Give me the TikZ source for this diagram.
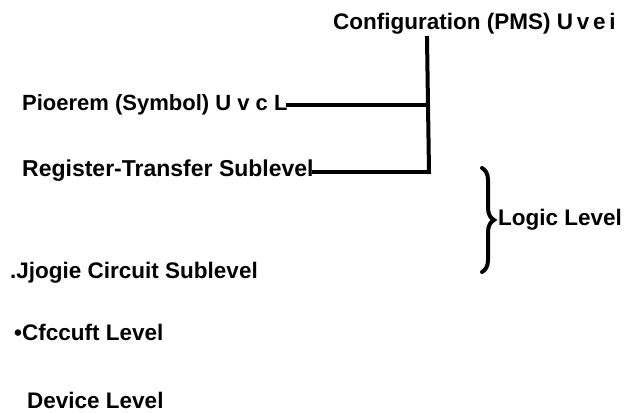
\documentclass[tikz,border=0pt]{standalone}
\usepackage{fontspec}
\setmainfont{Liberation Sans}
\usetikzlibrary{decorations.pathreplacing}
\tikzstyle{level} = [anchor=base west, inner sep=0pt,
    font=\fontsize{22.5}{27}\selectfont\bfseries]
\tikzstyle{wire} = [line width=4pt]

\begin{document}
\begin{tikzpicture}[x=1pt,y=-1pt,line cap=rect]
  \useasboundingbox (0,0) rectangle (626,412);

  \node[level] (cfg) at (333,30)  {Configuration (PMS) U\,v\,e\,i};
  \node[level,font=\fontsize{22}{26}\selectfont\bfseries]
               (pms) at (22,110)  {Pioerem (Symbol) U v c L};
  \node[level,font=\fontsize{23}{28}\selectfont\bfseries]
               (rt)  at (22,176)  {Register-Transfer Sublevel};
  \node[level] (lc)  at (10,278)  {.Jjogie Circuit Sublevel};
  \node[level] (cl)  at (14,340)  {•Cfccuft Level};
  \node[level] (dl)  at (27,408)  {Device Level};

  \coordinate (top)    at (427,38);
  \coordinate (pj)     at (428,105);
  \coordinate (corner) at (429,172);
  \coordinate (bt)     at (482,168);
  \coordinate (bb)     at (482,272);

  \node[level] (logic) at (498,225) {Logic Level};

  \draw[wire] (top) -- (corner);
  \draw[wire] (pms.base east |- pj) -- (pj);
  \draw[wire] (rt.base east |- corner) -- (corner);
  \draw[wire,line cap=round,decorate,decoration={brace,amplitude=12pt}]
    (bt) -- (bb);
\end{tikzpicture}
\end{document}
